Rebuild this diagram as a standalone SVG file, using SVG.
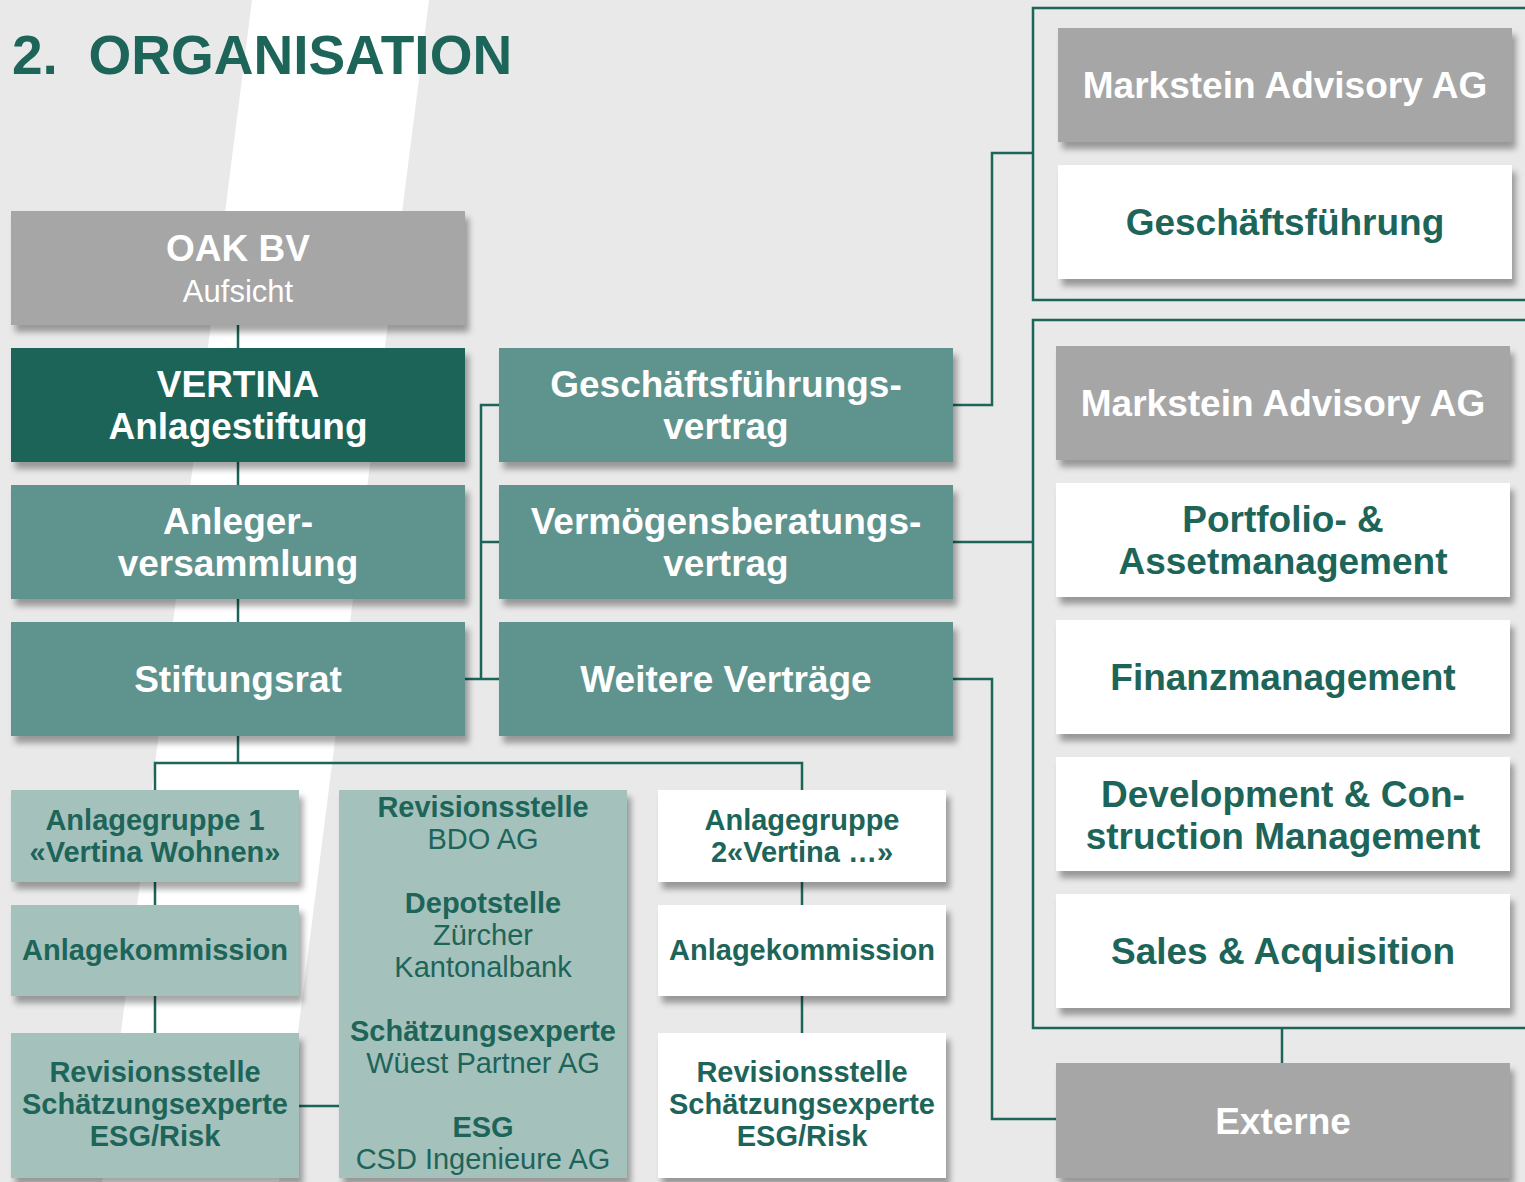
<svg xmlns="http://www.w3.org/2000/svg" width="1525" height="1182" viewBox="0 0 1525 1182">
<defs>
<filter id="sh" x="-5%" y="-10%" width="115%" height="130%">
<feDropShadow dx="4" dy="7" stdDeviation="3" flood-color="#000" flood-opacity="0.35"/>
</filter>
<style>
text{font-family:"Liberation Sans",Arial,Helvetica,sans-serif;text-anchor:middle}
.b{font-weight:bold}
.f37{font-size:37px}
.f29{font-size:29px}
.w{fill:#FFFFFF}
.t{fill:#1D6459}
.gray{fill:#A6A6A6}
.dark{fill:#1D6459}
.mid{fill:#5F938E}
.light{fill:#A5C1BC}
.white{fill:#FFFFFF}
.node rect{filter:url(#sh)}
.conn{fill:none;stroke:#1D6459;stroke-width:2.5}
.frame{fill:none;stroke:#1D6459;stroke-width:2.5}
</style>
</defs>
<rect x="0" y="0" width="1525" height="1182" fill="#E9E9E9"/>
<polygon points="252,0 429,0 279,1182 102,1182" fill="#FFFFFF"/>
<text x="12" y="74" style="font-size:55px;font-weight:bold;text-anchor:start;white-space:pre" class="t">2.  ORGANISATION</text>

<g id="connectors">
<path class="conn" d="M238,325 V348 M238,462 V485 M238,599 V622 M238,736 V763 M155,790 V763 H802 V790"/>
<path class="conn" d="M465,679 H499 M481,679 V405 H499 M481,542 H499"/>
<path class="conn" d="M953,405 H992 V153 H1033 M953,542 H1033 M953,679 H992 V1119 H1056"/>
<path class="conn" d="M1282,1028 V1063"/>
<path class="conn" d="M155,882 V905 M155,996 V1033 M299,1106 H339"/>
<path class="conn" d="M802,882 V905 M802,996 V1033"/>
<rect class="frame" x="1033" y="8" width="500" height="292"/>
<rect class="frame" x="1033" y="320" width="500" height="708"/>
</g>

<g id="oak" class="node"><rect class="gray" x="11" y="211" width="454" height="114"/>
<text x="238" y="261" class="b f37 w">OAK BV</text>
<text x="238" y="302" class="w" style="font-size:31px">Aufsicht</text></g>
<g id="vertina" class="node"><rect class="dark" x="11" y="348" width="454" height="114"/>
<text x="238" y="397" class="b f37 w">VERTINA</text>
<text x="238" y="439" class="b f37 w">Anlagestiftung</text></g>
<g id="anleger" class="node"><rect class="mid" x="11" y="485" width="454" height="114"/>
<text x="238" y="534" class="b f37 w">Anleger-</text>
<text x="238" y="576" class="b f37 w">versammlung</text></g>
<g id="stiftungsrat" class="node"><rect class="mid" x="11" y="622" width="454" height="114"/>
<text x="238" y="692" class="b f37 w">Stiftungsrat</text></g>

<g id="gfvertrag" class="node"><rect class="mid" x="499" y="348" width="454" height="114"/>
<text x="726" y="397" class="b f37 w">Geschäftsführungs-</text>
<text x="726" y="439" class="b f37 w">vertrag</text></g>
<g id="vbvertrag" class="node"><rect class="mid" x="499" y="485" width="454" height="114"/>
<text x="726" y="534" class="b f37 w">Vermögensberatungs-</text>
<text x="726" y="576" class="b f37 w">vertrag</text></g>
<g id="weitere" class="node"><rect class="mid" x="499" y="622" width="454" height="114"/>
<text x="726" y="692" class="b f37 w">Weitere Verträge</text></g>

<g id="markstein1" class="node"><rect class="gray" x="1058" y="28" width="454" height="114"/>
<text x="1285" y="98" class="b f37 w">Markstein Advisory AG</text></g>
<g id="gf" class="node"><rect class="white" x="1058" y="165" width="454" height="114"/>
<text x="1285" y="235" class="b f37 t">Geschäftsführung</text></g>

<g id="markstein2" class="node"><rect class="gray" x="1056" y="346" width="454" height="114"/>
<text x="1283" y="416" class="b f37 w">Markstein Advisory AG</text></g>
<g id="portfolio" class="node"><rect class="white" x="1056" y="483" width="454" height="114"/>
<text x="1283" y="532" class="b f37 t">Portfolio- &amp;</text>
<text x="1283" y="574" class="b f37 t">Assetmanagement</text></g>
<g id="finanz" class="node"><rect class="white" x="1056" y="620" width="454" height="114"/>
<text x="1283" y="690" class="b f37 t">Finanzmanagement</text></g>
<g id="development" class="node"><rect class="white" x="1056" y="757" width="454" height="114"/>
<text x="1283" y="807" class="b f37 t">Development &amp; Con-</text>
<text x="1283" y="849" class="b f37 t">struction Management</text></g>
<g id="sales" class="node"><rect class="white" x="1056" y="894" width="454" height="114"/>
<text x="1283" y="964" class="b f37 t">Sales &amp; Acquisition</text></g>
<g id="externe" class="node"><rect class="gray" x="1056" y="1063" width="454" height="115"/>
<text x="1283" y="1134" class="b f37 w">Externe</text></g>

<g id="ag1" class="node"><rect class="light" x="11" y="790" width="288" height="92"/>
<text x="155" y="830" class="b f29 t">Anlagegruppe 1</text>
<text x="155" y="862" class="b f29 t">«Vertina Wohnen»</text></g>
<g id="ak1" class="node"><rect class="light" x="11" y="905" width="288" height="91"/>
<text x="155" y="960" class="b f29 t">Anlagekommission</text></g>
<g id="rev1" class="node"><rect class="light" x="11" y="1033" width="288" height="145"/>
<text x="155" y="1082" class="b f29 t">Revisionsstelle</text>
<text x="155" y="1114" class="b f29 t">Schätzungsexperte</text>
<text x="155" y="1146" class="b f29 t">ESG/Risk</text></g>

<g id="stellen" class="node"><rect class="light" x="339" y="790" width="288" height="388"/>
<text x="483" y="817" class="b f29 t">Revisionsstelle</text>
<text x="483" y="849" class="f29 t">BDO AG</text>
<text x="483" y="913" class="b f29 t">Depotstelle</text>
<text x="483" y="945" class="f29 t">Zürcher</text>
<text x="483" y="977" class="f29 t">Kantonalbank</text>
<text x="483" y="1041" class="b f29 t">Schätzungsexperte</text>
<text x="483" y="1073" class="f29 t">Wüest Partner AG</text>
<text x="483" y="1137" class="b f29 t">ESG</text>
<text x="483" y="1169" class="f29 t">CSD Ingenieure AG</text></g>

<g id="ag2" class="node"><rect class="white" x="658" y="790" width="288" height="92"/>
<text x="802" y="830" class="b f29 t">Anlagegruppe</text>
<text x="802" y="862" class="b f29 t">2«Vertina …»</text></g>
<g id="ak2" class="node"><rect class="white" x="658" y="905" width="288" height="91"/>
<text x="802" y="960" class="b f29 t">Anlagekommission</text></g>
<g id="rev2" class="node"><rect class="white" x="658" y="1033" width="288" height="145"/>
<text x="802" y="1082" class="b f29 t">Revisionsstelle</text>
<text x="802" y="1114" class="b f29 t">Schätzungsexperte</text>
<text x="802" y="1146" class="b f29 t">ESG/Risk</text></g>
</svg>
